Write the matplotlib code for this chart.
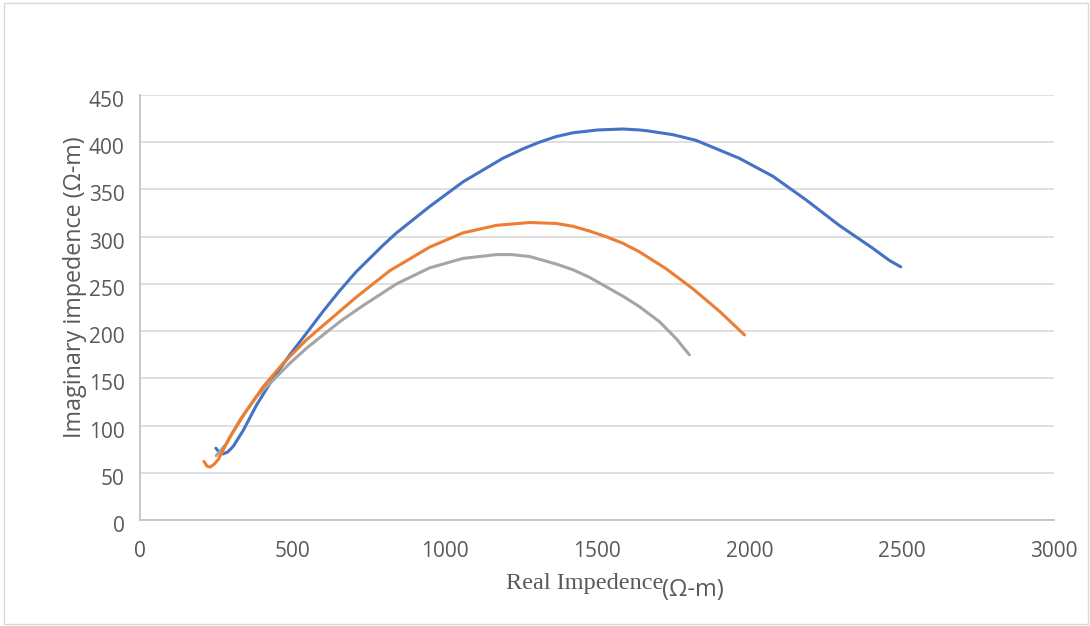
import numpy as np
import matplotlib.pyplot as plt
from matplotlib.patches import Rectangle
import matplotlib.transforms as mtransforms

# (real, imaginary) in ohm-m
blue_x = [249, 262, 273, 288, 306, 339, 383, 437, 492, 547, 601, 656, 710,
          798, 842, 951, 1060, 1191, 1257, 1311, 1366, 1421, 1503, 1585,
          1639, 1667, 1749, 1825, 1967, 2077, 2186, 2295, 2404, 2459, 2497]
blue_y = [76, 71, 70, 72, 78, 95, 122, 150, 175, 198, 221, 243, 263,
          291, 304, 332, 358, 383, 393, 400, 406, 410, 413, 414,
          413, 412, 408, 402, 383, 364, 339, 312, 288, 275, 268]

orange_x = [210, 220, 230, 243, 257, 295, 350, 404, 470, 547, 623, 710,
            820, 951, 1060, 1170, 1279, 1366, 1421, 1475, 1530, 1585, 1639,
            1727, 1814, 1902, 1984]
orange_y = [62, 57, 56, 59, 64, 88, 116, 141, 166, 191, 212, 236,
            264, 289, 304, 312, 315, 314, 311, 306, 300, 293, 284,
            266, 245, 221, 196]

grey_x = [250, 284, 328, 383, 437, 492, 547, 601, 660, 732, 842, 951,
          1060, 1170, 1220, 1279, 1366, 1421, 1475, 1530, 1585, 1639,
          1705, 1760, 1803]
grey_y = [68, 81, 106, 131, 148, 166, 182, 196, 211, 227, 250, 267,
          277, 281, 281, 279, 271, 265, 257, 247, 237, 226,
          210, 192, 175]

x_ticks = [0, 500, 1000, 1500, 2000, 2500, 3000]
y_ticks = [0, 50, 100, 150, 200, 250, 300, 350, 400, 450]

fig = plt.figure(figsize=(10.9, 6.26), dpi=100)
fig.patches.append(Rectangle((0.004, 0.003), 0.994, 0.993, transform=fig.transFigure,
                             fill=False, edgecolor='#d9d9d9', linewidth=1))
ax = fig.add_axes([140 / 1090, 106 / 626, 914 / 1090, 425 / 626])

kw = dict(lw=2.2, solid_capstyle='round', solid_joinstyle='round')
ax.plot(blue_x, blue_y, color='#4472C4', **kw)
ax.plot(grey_x, grey_y, color='#A5A5A5', **kw)
ax.plot(orange_x, orange_y, color='#ED7D31', **kw)

ax.set_xlim(0, 3000)
ax.set_ylim(0, 450)
ax.set_xticks(x_ticks)
ax.set_yticks(y_ticks)
ax.grid(axis='y', color='#d9d9d9', lw=1.2)
ax.set_axisbelow(True)
for s in ['top', 'right']:
    ax.spines[s].set_visible(False)
for s in ['left', 'bottom']:
    ax.spines[s].set_color('#bfbfbf')
    ax.spines[s].set_linewidth(1.2)

ax.tick_params(axis='both', length=0, labelsize=15, labelcolor='#595959')
ax.tick_params(axis='x', pad=15)
ax.tick_params(axis='y', pad=11)
for lab in ax.get_xticklabels() + ax.get_yticklabels():
    lab.set_family('Open Sans')
off = mtransforms.ScaledTranslation(0, -4 / 100, fig.dpi_scale_trans)
for lab in ax.get_yticklabels():
    lab.set_transform(lab.get_transform() + off)

ax.set_ylabel('Imaginary impedence (Ω-m)', family='Open Sans', fontsize=16.8, color='#595959')
ax.yaxis.set_label_coords(-0.058, 0.548)

fig.text(585 / 1090, 1 - 583 / 626, 'Real Impedence', family='Liberation Serif',
         fontsize=17.5, color='#595959', ha='center', va='center')
fig.text(693 / 1090, 1 - 590 / 626, '(Ω-m)', family='Open Sans',
         fontsize=17, color='#595959', ha='center', va='center')

fig.savefig('out.png', dpi=100)
